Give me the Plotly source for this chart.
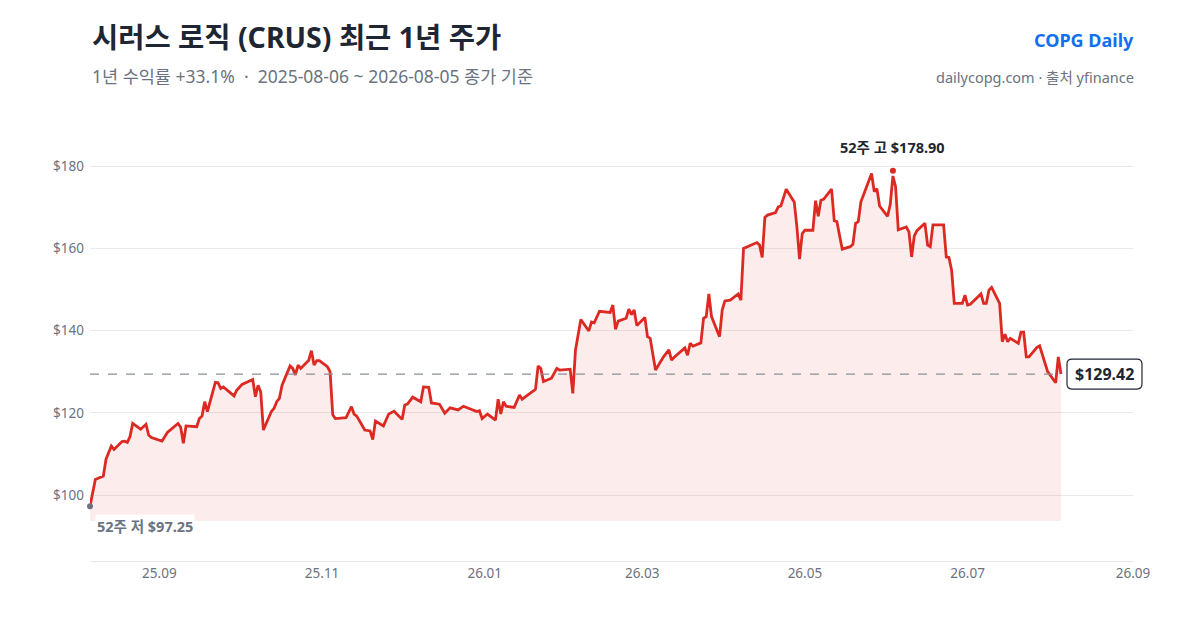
import plotly.graph_objects as go
import pandas as pd

dates = [
    "2025-08-06", "2025-08-08", "2025-08-11", "2025-08-12", "2025-08-14", "2025-08-15", "2025-08-18",
    "2025-08-19", "2025-08-20", "2025-08-21", "2025-08-22", "2025-08-25", "2025-08-27", "2025-08-28",
    "2025-08-29", "2025-09-02", "2025-09-04", "2025-09-08", "2025-09-09", "2025-09-10", "2025-09-11",
    "2025-09-15", "2025-09-16", "2025-09-17", "2025-09-18", "2025-09-19", "2025-09-22", "2025-09-23",
    "2025-09-24", "2025-09-25", "2025-09-29", "2025-09-30", "2025-10-02", "2025-10-06", "2025-10-07",
    "2025-10-08", "2025-10-09", "2025-10-10", "2025-10-13", "2025-10-14", "2025-10-15", "2025-10-16",
    "2025-10-17", "2025-10-20", "2025-10-21", "2025-10-22", "2025-10-23", "2025-10-24", "2025-10-27",
    "2025-10-28", "2025-10-29", "2025-10-30", "2025-10-31", "2025-11-03", "2025-11-04", "2025-11-05",
    "2025-11-06", "2025-11-10", "2025-11-12", "2025-11-13", "2025-11-14", "2025-11-17", "2025-11-19",
    "2025-11-20", "2025-11-21", "2025-11-24", "2025-11-26", "2025-11-28", "2025-11-29", "2025-12-01",
    "2025-12-02", "2025-12-03", "2025-12-05", "2025-12-08", "2025-12-09", "2025-12-11", "2025-12-12",
    "2025-12-15", "2025-12-17", "2025-12-19", "2025-12-22", "2025-12-24", "2025-12-29", "2025-12-30",
    "2025-12-31", "2026-01-02", "2026-01-05", "2026-01-06", "2026-01-07", "2026-01-08", "2026-01-09",
    "2026-01-12", "2026-01-14", "2026-01-15", "2026-01-20", "2026-01-21", "2026-01-22", "2026-01-23",
    "2026-01-26", "2026-01-28", "2026-01-29", "2026-02-02", "2026-02-03", "2026-02-04", "2026-02-06",
    "2026-02-09", "2026-02-10", "2026-02-11", "2026-02-13", "2026-02-17", "2026-02-18", "2026-02-19",
    "2026-02-20", "2026-02-23", "2026-02-24", "2026-02-25", "2026-02-26", "2026-02-27", "2026-03-02",
    "2026-03-03", "2026-03-04", "2026-03-06", "2026-03-09", "2026-03-11", "2026-03-12", "2026-03-13",
    "2026-03-17", "2026-03-18", "2026-03-19", "2026-03-20", "2026-03-23", "2026-03-24", "2026-03-25",
    "2026-03-26", "2026-03-27", "2026-03-30", "2026-03-31", "2026-04-01", "2026-04-03", "2026-04-06",
    "2026-04-07", "2026-04-08", "2026-04-13", "2026-04-14", "2026-04-15", "2026-04-16", "2026-04-17",
    "2026-04-20", "2026-04-21", "2026-04-22", "2026-04-24", "2026-04-27", "2026-04-28", "2026-04-29",
    "2026-04-30", "2026-05-01", "2026-05-04", "2026-05-05", "2026-05-06", "2026-05-07", "2026-05-08",
    "2026-05-11", "2026-05-12", "2026-05-13", "2026-05-15", "2026-05-18", "2026-05-19", "2026-05-20",
    "2026-05-21", "2026-05-22", "2026-05-26", "2026-05-27", "2026-05-28", "2026-05-29", "2026-06-01",
    "2026-06-02", "2026-06-03", "2026-06-04", "2026-06-05", "2026-06-08", "2026-06-09", "2026-06-10",
    "2026-06-11", "2026-06-12", "2026-06-15", "2026-06-16", "2026-06-17", "2026-06-18", "2026-06-22",
    "2026-06-23", "2026-06-24", "2026-06-25", "2026-06-26", "2026-06-29", "2026-06-30", "2026-07-01",
    "2026-07-02", "2026-07-06", "2026-07-07", "2026-07-08", "2026-07-09", "2026-07-10", "2026-07-13",
    "2026-07-14", "2026-07-15", "2026-07-16", "2026-07-17", "2026-07-20", "2026-07-21", "2026-07-22",
    "2026-07-23", "2026-07-24", "2026-07-27", "2026-07-28", "2026-07-31", "2026-08-03", "2026-08-04",
    "2026-08-05",
]

closes = [
    97.25, 103.8, 104.6, 108.7, 111.9, 111.1, 113.0,
    113.1, 112.8, 114.2, 117.4, 116.0, 117.2, 114.6,
    114.0, 113.1, 115.2, 117.4, 116.5, 112.6, 116.8,
    116.6, 118.6, 119.2, 122.7, 120.3, 127.4, 127.3,
    125.9, 126.3, 124.1, 125.5, 126.9, 128.1, 123.9,
    126.7, 125.1, 115.8, 120.3, 121.1, 122.7, 123.5,
    126.7, 131.4, 130.8, 129.2, 131.6, 130.8, 132.8,
    135.1, 131.6, 132.7, 132.7, 131.2, 130.0, 119.5,
    118.6, 118.8, 121.5, 119.7, 119.2, 115.8, 115.6,
    113.5, 118.0, 116.8, 119.7, 120.4, 119.7, 118.4,
    121.9, 122.1, 123.8, 122.7, 126.3, 126.2, 122.4,
    122.1, 119.9, 121.2, 120.7, 121.6, 120.3, 120.5,
    118.6, 119.7, 118.2, 123.3, 119.7, 122.7, 121.6,
    121.3, 124.3, 123.3, 125.7, 131.4, 130.8, 127.6,
    128.4, 130.8, 130.4, 130.6, 124.7, 135.3, 142.7,
    139.9, 142.1, 141.9, 144.7, 144.4, 146.2, 140.3,
    142.3, 143.0, 145.2, 143.9, 145.0, 141.2, 143.2,
    138.5, 138.1, 130.4, 133.6, 135.3, 132.8, 133.5,
    135.8, 134.0, 136.9, 136.2, 137.0, 143.0, 143.4,
    148.9, 143.4, 138.5, 145.0, 147.2, 147.4, 148.9,
    147.4, 160.0, 161.4, 160.8, 157.8, 167.5, 168.1,
    168.7, 170.1, 170.3, 174.4, 171.3, 165.2, 157.4,
    163.6, 164.4, 164.4, 171.6, 167.8, 171.7, 171.9,
    174.4, 166.7, 166.5, 159.8, 160.4, 161.0, 166.1,
    166.5, 171.3, 178.2, 173.8, 174.5, 170.3, 167.8,
    170.7, 177.6, 175.0, 164.5, 165.2, 164.0, 157.9,
    163.0, 164.3, 166.1, 160.8, 160.4, 165.7, 165.7,
    157.9, 157.8, 154.7, 146.6, 146.6, 148.6, 146.2,
    146.4, 148.9, 146.6, 146.6, 149.8, 150.5, 146.6,
    137.3, 139.1, 137.3, 138.1, 136.9, 139.6, 139.6,
    133.6, 133.6, 135.9, 136.3, 130.0, 127.3, 133.6,
    129.42,
]

high_date = "2026-06-03"
high_value = 178.90
low_date = "2025-08-06"
low_value = 97.25
fill_base = 93.7

y_ticks = [100, 120, 140, 160, 180]
y_tick_labels = ["$100", "$120", "$140", "$160", "$180"]
x_ticks = ["2025-09-01", "2025-11-01", "2026-01-01", "2026-03-01", "2026-05-01", "2026-07-01", "2026-09-01"]
x_tick_labels = ["25.09", "25.11", "26.01", "26.03", "26.05", "26.07", "26.09"]
x_range = ["2025-08-06", "2026-09-01"]

title_text = "시러스 로직 (CRUS) 최근 1년 주가"
subtitle_text = "1년 수익률 +33.1%  ·  2025-08-06 ~ 2026-08-05 종가 기준"
brand_text = "COPG Daily"
source_text = "dailycopg.com · 출처 yfinance"

FONT = "Noto Sans, Noto Sans CJK KR, sans-serif"
RED = "#dc2a22"
DARK = "#1f2633"
GREY = "#6b7280"
last_value = closes[-1]

fig = go.Figure()

# baseline for fill
fig.add_trace(go.Scatter(
    x=[dates[0], dates[-1]], y=[fill_base, fill_base], mode="lines",
    line=dict(width=0, color="rgba(0,0,0,0)"), hoverinfo="skip", showlegend=False,
))
# line with fill
fig.add_trace(go.Scatter(
    x=dates, y=closes, mode="lines",
    line=dict(color=RED, width=2.8),
    fill="tonexty", fillcolor="rgba(220,42,34,0.09)",
    showlegend=False,
))
# last price dashed reference
fig.add_trace(go.Scatter(
    x=[dates[0], dates[-1]], y=[last_value, last_value], mode="lines",
    line=dict(color="#8a8f99", width=1.2, dash="dash"),
    hoverinfo="skip", showlegend=False,
))
# high / low markers
fig.add_trace(go.Scatter(
    x=[high_date], y=[high_value], mode="markers",
    marker=dict(color=RED, size=6), showlegend=False, cliponaxis=False,
))
fig.add_trace(go.Scatter(
    x=[low_date], y=[low_value], mode="markers",
    marker=dict(color=GREY, size=6), showlegend=False, cliponaxis=False,
))

annotations = [
    dict(x=0, y=1.202, xref="paper", yref="paper", xanchor="left", yanchor="middle",
         text=f"<b>{title_text}</b>", showarrow=False,
         font=dict(family=FONT, size=28.5, color=DARK)),
    dict(x=0, y=1.112, xref="paper", yref="paper", xanchor="left", yanchor="middle",
         text=subtitle_text, showarrow=False,
         font=dict(family=FONT, size=17.5, color=GREY)),
    dict(x=1.0, y=1.195, xref="paper", yref="paper", xanchor="right", yanchor="middle",
         xshift=3, text=f"<b>{brand_text}</b>", showarrow=False,
         font=dict(family=FONT, size=18, color="#1170f0")),
    dict(x=1.0, y=1.110, xref="paper", yref="paper", xanchor="right", yanchor="middle",
         xshift=3, text=source_text, showarrow=False,
         font=dict(family=FONT, size=14.5, color=GREY)),
    dict(x=high_date, y=high_value, xref="x", yref="y", xanchor="center", yanchor="bottom",
         yshift=12, text=f"<b>52주 고 ${high_value:.2f}</b>", showarrow=False,
         font=dict(family=FONT, size=14.5, color=DARK)),
    dict(x=low_date, y=low_value, xref="x", yref="y", xanchor="left", yanchor="top",
         xshift=5, yshift=-8, text=f"<b>52주 저 ${low_value:.2f}</b>", showarrow=False,
         bgcolor="white", borderpad=1,
         font=dict(family=FONT, size=14.5, color=GREY)),
]

# last-price label in a rounded box (paper-x anchor so it is not clipped by the plot area)
t0, t1 = pd.Timestamp(x_range[0]), pd.Timestamp(x_range[1])
last_frac = (pd.Timestamp(dates[-1]) - t0) / (t1 - t0)
r = 5
x0, x1, h = 6, 81, 15
box_path = (
    f"M {x0 + r},{-h} L {x1 - r},{-h} Q {x1},{-h} {x1},{-h + r} "
    f"L {x1},{h - r} Q {x1},{h} {x1 - r},{h} L {x0 + r},{h} "
    f"Q {x0},{h} {x0},{h - r} L {x0},{-h + r} Q {x0},{-h} {x0 + r},{-h} Z"
)
shapes = [dict(
    type="path", xref="paper", yref="y", xsizemode="pixel", ysizemode="pixel",
    xanchor=last_frac, yanchor=last_value, path=box_path,
    fillcolor="white", line=dict(color=DARK, width=1.2), layer="above",
)]
annotations.append(dict(
    x=last_frac, y=last_value, xref="paper", yref="y", xanchor="center", yanchor="middle",
    xshift=(x0 + x1) / 2, text=f"<b>${last_value:.2f}</b>", showarrow=False,
    font=dict(family=FONT, size=16, color=DARK),
))

fig.update_layout(
    width=1200, height=630,
    margin=dict(l=82, r=75, t=117, b=77),
    paper_bgcolor="white", plot_bgcolor="white",
    font=dict(family=FONT, color=GREY),
    annotations=annotations,
    shapes=shapes,
    showlegend=False,
    xaxis=dict(
        range=x_range,
        tickvals=x_ticks, ticktext=x_tick_labels,
        showgrid=False, zeroline=False,
        showline=True, linecolor="#e5e7eb", linewidth=1,
        ticks="", tickfont=dict(family=FONT, size=13.5, color=GREY),
    ),
    yaxis=dict(
        range=[83.95, 190],
        tickvals=y_ticks, ticktext=y_tick_labels,
        showgrid=True, gridcolor="#e8eaee", gridwidth=1,
        zeroline=False, showline=False, ticks="",
        ticklabelstandoff=5,
        tickfont=dict(family=FONT, size=13.5, color=GREY),
    ),
)

fig.write_html("out.html")
